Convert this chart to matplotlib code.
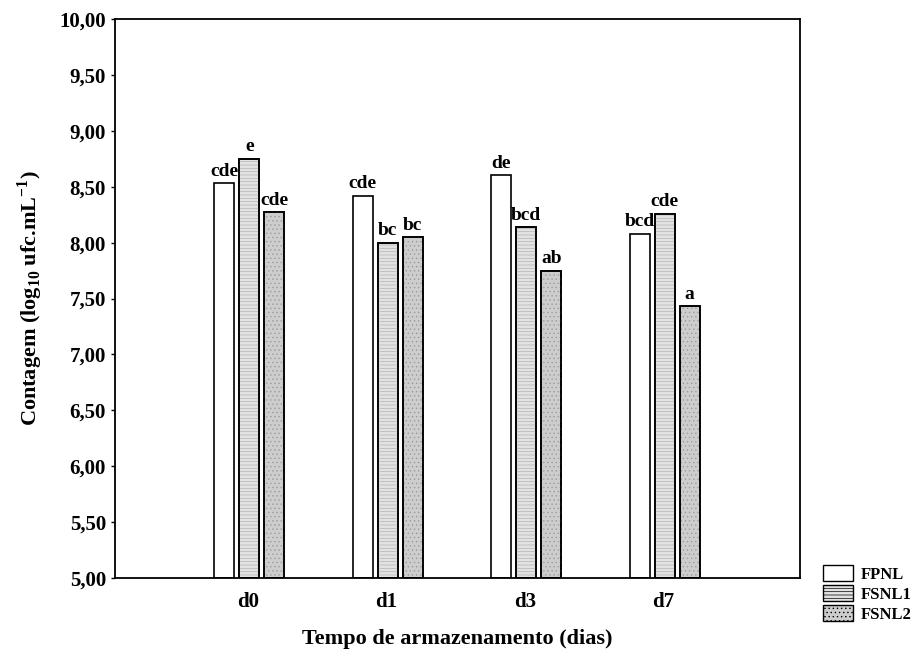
import numpy as np
import matplotlib.pyplot as plt
from matplotlib.patches import Patch

plt.rcParams['font.family'] = ['Liberation Serif', 'DejaVu Serif']
plt.rcParams['font.weight'] = 'bold'
plt.rcParams['mathtext.fontset'] = 'custom'
plt.rcParams['mathtext.rm'] = 'Liberation Serif:bold'
plt.rcParams['mathtext.bf'] = 'Liberation Serif:bold'
plt.rcParams['hatch.linewidth'] = 0.5

days = ['d0', 'd1', 'd3', 'd7']
series = ['FPNL', 'FSNL1', 'FSNL2']
fpnl = [8.53, 8.42, 8.60, 8.08]
fsnl1 = [8.75, 8.00, 8.14, 8.26]
fsnl2 = [8.27, 8.05, 7.75, 7.43]
letters_fpnl = ['cde', 'cde', 'de', 'bcd']
letters_fsnl1 = ['e', 'bc', 'bcd', 'cde']
letters_fsnl2 = ['cde', 'bc', 'ab', 'a']

values = [fpnl, fsnl1, fsnl2]
letters = [letters_fpnl, letters_fsnl1, letters_fsnl2]
faces = ['white', '#e2e2e2', '#cdcdcd']
hatches = [None, '-----', '....']
hatch_cols = ['black', '#b4b4b4', '#9c9c9c']

fig = plt.figure(figsize=(9.2, 6.49), dpi=100)
ax = fig.add_axes([0.125, 0.109, 0.745, 0.862])

x = np.arange(len(days))
width = 0.145
offsets = [-0.17, 0.01, 0.19]

for vals, labs, off, fc, h, hc in zip(values, letters, offsets, faces, hatches, hatch_cols):
    heights = np.array(vals) - 5.0
    ax.bar(x + off, heights, width, bottom=5.0, color=fc,
           edgecolor='black', linewidth=1.2, zorder=2)
    if h:
        ax.bar(x + off, heights, width, bottom=5.0, color='none',
               edgecolor=hc, hatch=h, linewidth=0, zorder=3)
        ax.bar(x + off, heights, width, bottom=5.0, color='none',
               edgecolor='black', linewidth=1.2, zorder=4)
    for xi, v, t in zip(x + off, vals, labs):
        ax.text(xi, v + 0.03, t, ha='center', va='bottom', fontsize=14,
                fontweight='bold')

ax.set_xlim(-0.96, 3.99)
ax.set_ylim(5.0, 10.0)
ax.set_xticks(x)
ax.set_xticklabels(days, fontsize=15, fontweight='bold')
yt = np.arange(5.0, 10.01, 0.5)
ax.set_yticks(yt)
ax.set_yticklabels([f'{v:.2f}'.replace('.', ',') for v in yt], fontsize=15,
                   fontweight='bold')
ax.tick_params(axis='y', direction='out', length=3, width=1)
ax.tick_params(axis='x', length=0, pad=10)
for s in ax.spines.values():
    s.set_linewidth(1.3)

ax.set_xlabel('Tempo de armazenamento (dias)', fontsize=16, fontweight='bold',
              labelpad=12)
ax.set_ylabel('Contagem (log$_{10}$ ufc.mL$^{-1}$)', fontsize=16,
              fontweight='bold', labelpad=10)

handles = [Patch(facecolor=fc, edgecolor='black', hatch=h, linewidth=1.0)
           for fc, h in zip(faces, hatches)]
fig.legend(handles, series, loc='lower left', bbox_to_anchor=(0.887, 0.03),
           frameon=False, fontsize=12, handlelength=1.8, handleheight=1.1,
           labelspacing=0.15, handletextpad=0.5, borderaxespad=0)

fig.savefig('out.png', dpi=100)
